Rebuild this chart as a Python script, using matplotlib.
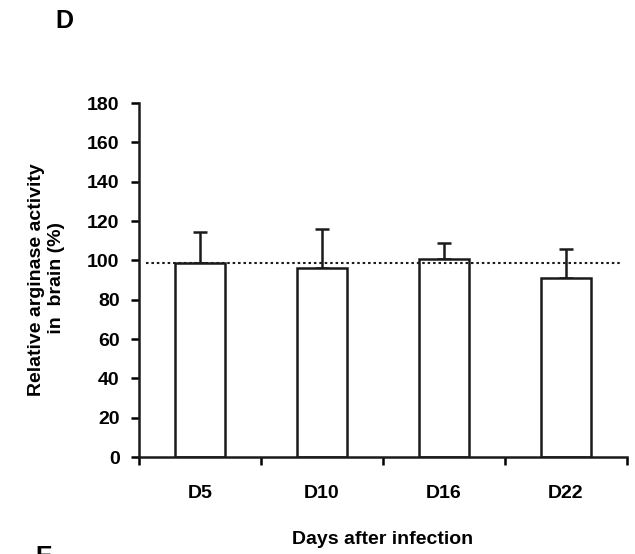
import matplotlib

matplotlib.use("Agg")
import matplotlib.pyplot as plt

plt.rcParams["font.family"] = ["Liberation Sans", "DejaVu Sans"]
plt.rcParams["font.weight"] = "bold"

days = ["D5", "D10", "D16", "D22"]
activity = [98.5, 96.0, 100.7, 91.0]
err_up = [15.8, 20.0, 8.2, 14.8]
reference = 98.6
y_ticks = [0, 20, 40, 60, 80, 100, 120, 140, 160, 180]


def main():
    fig = plt.figure(figsize=(6.35, 5.54), dpi=100)
    ax = fig.add_axes([0.219, 0.175, 0.768, 0.639])

    pos = [i + 0.5 for i in range(len(days))]
    ax.bar(pos, activity, width=0.41, color="white", edgecolor="#1a1a1a",
           linewidth=1.8, zorder=2)
    ax.errorbar(pos, activity, yerr=[[0] * len(days), err_up], fmt="none",
                ecolor="#1a1a1a", elinewidth=1.8, capsize=4.7, capthick=1.8,
                zorder=1)
    ax.plot([0.06, 3.96], [reference, reference], linestyle=(0, (1.2, 1.4)),
            color="#1a1a1a", linewidth=1.5, zorder=3)

    ax.set_xlim(0, 4)
    ax.set_ylim(0, 180)
    ax.set_yticks(y_ticks)
    ax.set_xticks(range(len(days) + 1))
    ax.set_xticklabels([])
    ax.set_xticks(pos, minor=True)
    ax.set_xticklabels(days, minor=True)
    ax.tick_params(axis="x", which="minor", length=0, pad=20, labelsize=14)
    ax.tick_params(axis="x", which="major", length=6, width=1.8,
                   direction="out")
    ax.tick_params(axis="y", length=6, width=1.8, direction="out",
                   labelsize=14, pad=8)
    for lbl in ax.get_xticklabels(minor=True) + ax.get_yticklabels():
        lbl.set_fontweight("bold")

    for side in ["top", "right"]:
        ax.spines[side].set_visible(False)
    for side in ["left", "bottom"]:
        ax.spines[side].set_linewidth(1.8)
        ax.spines[side].set_color("#1a1a1a")

    ax.set_ylabel("Relative arginase activity\n in  brain (%)", fontsize=14,
                  fontweight="bold", labelpad=16)
    ax.set_xlabel("Days after infection", fontsize=14, fontweight="bold",
                  labelpad=21)

    fig.text(0.087, 0.962, "D", fontsize=18, fontweight="bold",
             ha="left", va="center")
    fig.text(0.055, -0.005, "E", fontsize=18, fontweight="bold",
             ha="left", va="center")

    fig.savefig("out.png", dpi=100)
    plt.close(fig)


if __name__ == "__main__":
    main()
